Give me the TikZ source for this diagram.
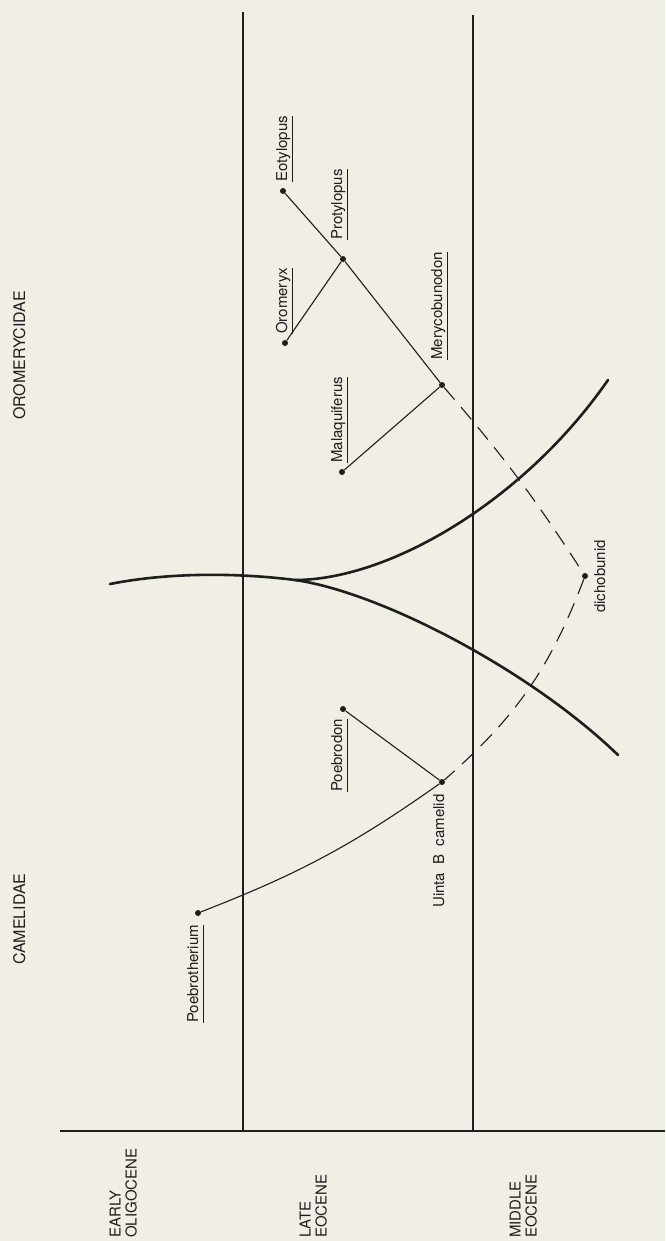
\documentclass[tikz,border=0pt]{standalone}
\usepackage{fontspec}
\setmainfont{TeX Gyre Heros}
\definecolor{bgc}{RGB}{240,238,229}
\definecolor{inkc}{RGB}{30,30,30}
\newcommand\taxul[1]{\setbox0=\hbox{#1}\rlap{\rule[-5.6pt]{\wd0}{1.1pt}}\box0}
\begin{document}
\begin{tikzpicture}[x=1pt,y=-1pt,
  rulel/.style={draw=inkc, line width=1.2pt},
  branch/.style={draw=inkc, line width=1.1pt},
  lineage/.style={draw=inkc, line width=2.6pt, line cap=round},
  dashline/.style={draw=inkc, line width=1.1pt, dash pattern=on 16pt off 10pt},
  dot/.style={circle, fill=inkc, inner sep=0pt, minimum size=6pt},
  taxon/.style={rotate=90, anchor=base west, inner sep=0pt, text=inkc, font=\fontsize{15}{18}\selectfont},
  header/.style={rotate=90, anchor=base west, inner sep=0pt, text=inkc, font=\fontsize{16}{19}\selectfont},
  period/.style={rotate=90, anchor=south west, align=left, inner sep=0pt, text=inkc, font=\fontsize{15}{16}\selectfont},
]
\fill[bgc] (0,0) rectangle (665,1241);
\useasboundingbox (0,0) rectangle (665,1241);

% frame lines
\coordinate (v1t) at (243,12);  \coordinate (v1b) at (243,1131);
\coordinate (v2t) at (473,15);  \coordinate (v2b) at (473,1131);
\coordinate (bl) at (60,1131);  \coordinate (br) at (665,1131);
\draw[rulel] (v1t) -- (v1b);
\draw[rulel] (v2t) -- (v2b);
\draw[rulel] (bl) -- (br);

% thick lineage curves
\coordinate (lstart) at (110,584);
\coordinate (fork) at (295,580);
\coordinate (camend) at (618,755);
\coordinate (oroend) at (608,380);
\draw[lineage] (lstart) .. controls (170,572) and (240,573) .. (fork)
  .. controls (380,592) and (530,670) .. (camend);
\draw[lineage] (fork) .. controls (390,580) and (525,500) .. (oroend);

% taxon points
\node[dot] (eot) at (283,191) {};
\node[dot] (prot) at (343,259) {};
\node[dot] (orom) at (285,343) {};
\node[dot] (mery) at (442,385) {};
\node[dot] (malq) at (342,472) {};
\node[dot] (dicho) at (585,576) {};
\node[dot] (poed) at (343,709) {};
\node[dot] (uinta) at (442,782) {};
\node[dot] (poet) at (198,913) {};

% branches
\draw[branch] (eot) -- (prot) -- (mery);
\draw[branch] (orom) -- (prot);
\draw[branch] (malq) -- (mery);
\draw[branch] (poed) -- (uinta);
\draw[branch] (uinta) to[bend left=7] (poet);
\draw[dashline] (mery) to[bend left=4] (dicho);
\draw[dashline] (dicho) to[bend left=14] (uinta);

% taxon labels
\node[taxon] (leot) at (287,182) {\taxul{Eotylopus}};
\node[taxon] (lprot) at (342,240) {\taxul{Protylopus}};
\node[taxon] (lorom) at (287,334) {\taxul{Oromeryx}};
\node[taxon] (lmery) at (442,360) {\taxul{Merycobunodon}};
\node[taxon] (lmalq) at (342,463) {\taxul{Malaquiferus}};
\node[taxon] (lpoed) at (342,792) {\taxul{Poebrodon}};
\node[taxon] (luinta) at (444,908) {Uinta\hspace{0.55em}B\hspace{0.55em}camelid};
\node[taxon] (lpoet) at (198,1023) {\taxul{Poebrotherium}};
\node[taxon] (ldicho) at (605,613) {dichobunid};

% family headers
\node[header] (horom) at (25,420) {OROMERYCIDAE};
\node[header] (hcam) at (25,965) {CAMELIDAE};

% epochs
\node[period] (pe1) at (137,1238) {EARLY\\OLIGOCENE};
\node[period] (pe2) at (327,1238) {LATE\\EOCENE};
\node[period] (pe3) at (537,1238) {MIDDLE\\EOCENE};
\end{tikzpicture}
\end{document}
